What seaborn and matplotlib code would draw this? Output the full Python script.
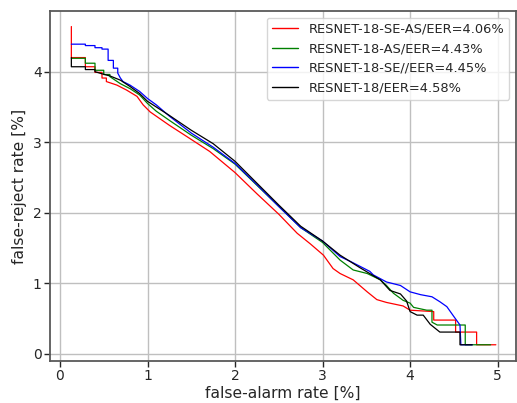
import numpy as np
import pandas as pd
import matplotlib
matplotlib.use("Agg")
import matplotlib.pyplot as plt
import seaborn as sns

labels = ["RESNET-18-SE-AS/EER=4.06%", "RESNET-18-AS/EER=4.43%",
          "RESNET-18-SE//EER=4.45%", "RESNET-18/EER=4.58%"]
colors = ["red", "green", "blue", "black"]

red_fa = [0.13, 0.13, 0.29, 0.29, 0.40, 0.40, 0.48, 0.48, 0.53, 0.53, 0.65, 0.76, 0.88, 0.95, 1.03,
          1.25, 1.45, 1.71, 2.0, 2.25, 2.5, 2.71, 2.86, 3.01, 3.12, 3.20, 3.35, 3.51, 3.62, 3.73,
          3.92, 4.0, 4.27, 4.27, 4.52, 4.52, 4.76, 4.76, 4.98]
red_fr = [4.64, 4.20, 4.20, 4.07, 4.07, 3.99, 3.99, 3.91, 3.91, 3.86, 3.81, 3.74, 3.65, 3.53, 3.43,
          3.24, 3.08, 2.87, 2.57, 2.27, 1.98, 1.71, 1.56, 1.40, 1.21, 1.14, 1.05, 0.88, 0.77, 0.73,
          0.68, 0.62, 0.60, 0.48, 0.48, 0.31, 0.31, 0.13, 0.13]

green_fa = [0.13, 0.29, 0.29, 0.40, 0.40, 0.50, 0.50, 0.57, 0.57, 0.63, 0.69, 0.80, 0.91, 1.0,
            1.10, 1.25, 1.5, 1.75, 2.0, 2.25, 2.5, 2.75, 3.0, 3.2, 3.35, 3.51, 3.66, 3.73, 3.81,
            3.92, 4.0, 4.04, 4.19, 4.25, 4.25, 4.31, 4.63, 4.63, 4.92]
green_fr = [4.19, 4.19, 4.12, 4.12, 4.02, 4.02, 3.96, 3.96, 3.93, 3.88, 3.83, 3.76, 3.67, 3.55,
            3.44, 3.31, 3.10, 2.91, 2.69, 2.39, 2.09, 1.79, 1.58, 1.33, 1.19, 1.14, 1.05, 0.97, 0.86,
            0.76, 0.72, 0.66, 0.62, 0.62, 0.45, 0.41, 0.41, 0.13, 0.13]

blue_fa = [0.13, 0.29, 0.29, 0.40, 0.40, 0.48, 0.48, 0.55, 0.55, 0.61, 0.61, 0.66, 0.66, 0.69,
           0.72, 0.80, 0.91, 1.0, 1.10, 1.25, 1.5, 1.75, 2.0, 2.25, 2.5, 2.75, 3.0, 3.2, 3.32,
           3.54, 3.58, 3.73, 3.89, 4.0, 4.12, 4.25, 4.34, 4.42, 4.50, 4.57, 4.58, 4.71]
blue_fr = [4.39, 4.39, 4.37, 4.37, 4.34, 4.34, 4.32, 4.32, 4.16, 4.16, 4.05, 4.05, 3.98, 3.91,
           3.86, 3.81, 3.72, 3.62, 3.53, 3.37, 3.13, 2.93, 2.70, 2.40, 2.09, 1.79, 1.60, 1.38, 1.31,
           1.17, 1.12, 1.02, 0.97, 0.88, 0.84, 0.81, 0.74, 0.67, 0.53, 0.41, 0.13, 0.13]

black_fa = [0.13, 0.13, 0.29, 0.29, 0.40, 0.40, 0.48, 0.57, 0.69, 0.80, 0.91, 1.0, 1.25, 1.5,
            1.75, 2.0, 2.25, 2.5, 2.75, 3.0, 3.2, 3.43, 3.66, 3.77, 3.89, 3.96, 4.0, 4.08, 4.15,
            4.23, 4.34, 4.57, 4.57, 4.71]
black_fr = [4.20, 4.07, 4.07, 4.03, 4.03, 4.00, 3.97, 3.94, 3.88, 3.79, 3.69, 3.58, 3.38, 3.17,
            2.98, 2.73, 2.42, 2.11, 1.81, 1.60, 1.40, 1.22, 1.05, 0.90, 0.85, 0.75, 0.60, 0.55, 0.55,
            0.42, 0.31, 0.31, 0.13, 0.13]

xticks = [0, 1, 2, 3, 4, 5]
yticks = [0, 1, 2, 3, 4]

series = [(red_fa, red_fr), (green_fa, green_fr), (blue_fa, blue_fr), (black_fa, black_fr)]
frames = []
for lab, (fa, fr) in zip(labels, series):
    frames.append(pd.DataFrame({"fa": fa, "fr": fr, "model": lab}))
df = pd.concat(frames, ignore_index=True)

sns.set_theme(style="whitegrid")
plt.rcParams["font.family"] = ["DejaVu Sans"]
plt.rcParams.update({
    "axes.edgecolor": "0.35",
    "axes.linewidth": 1.3,
    "grid.color": "0.75",
    "grid.linewidth": 1.0,
    "xtick.bottom": True,
    "ytick.left": True,
    "xtick.color": "0.15",
    "ytick.color": "0.15",
    "xtick.major.size": 4,
    "ytick.major.size": 4,
    "xtick.major.width": 1.0,
    "ytick.major.width": 1.0,
})

fig = plt.figure(figsize=(5.17, 4.03), dpi=100)
ax = fig.add_axes([50 / 517, 1 - 361 / 403, (516 - 50) / 517, (361 - 11) / 403])

sns.lineplot(data=df, x="fa", y="fr", hue="model", hue_order=labels,
             palette=dict(zip(labels, colors)), sort=False, estimator=None,
             units="model", linewidth=0.9, ax=ax)

ax.set_xlim(-0.114, 5.21)
ax.set_ylim(-0.10, 4.86)
ax.set_xticks(xticks)
ax.set_yticks(yticks)
ax.tick_params(labelsize=10, pad=2)
ax.set_xlabel("false-alarm rate [%]", fontsize=11.2, labelpad=2)
ax.set_ylabel("false-reject rate [%]", fontsize=11.2, labelpad=4)
for s in ax.spines.values():
    s.set_visible(True)

leg = ax.legend(loc="upper right", fontsize=9.4, frameon=True, handlelength=2.0)
leg.get_frame().set_edgecolor("0.8")
for line in leg.get_lines():
    line.set_linewidth(1.0)

fig.savefig("out.png", dpi=100)
